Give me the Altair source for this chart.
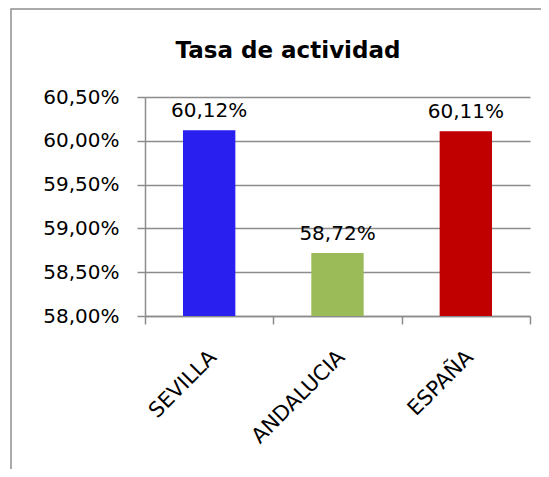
import altair as alt
import pandas as pd

categories = ["SEVILLA", "ANDALUCIA", "ESPAÑA"]
values = [60.12, 58.72, 60.11]
colors = ["#291FEF", "#9BBB59", "#C00000"]
y_ticks = [58.0, 58.5, 59.0, 59.5, 60.0, 60.5]
y_min, y_max = 58.0, 60.5
title_text = "Tasa de actividad"

df = pd.DataFrame({"cat": categories, "val": values, "color": colors})

FONT = "DejaVu Sans"
GRID = "#8c8c8c"

x_enc = alt.X(
    "cat:N",
    sort=categories,
    scale=alt.Scale(paddingInner=0, paddingOuter=0),
    axis=alt.Axis(
        title=None,
        labelAngle=-45,
        labelAlign="right",
        labelBaseline="top",
        labelPadding=22,
        labelOffset=-4,
        labelFont=FONT,
        labelFontSize=21,
        labelColor="#000000",
        tickBand="extent",
        tickSize=8,
        tickColor=GRID,
        tickWidth=1.5,
        domainColor=GRID,
        domainWidth=1.5,
        grid=False,
    ),
)

y_scale = alt.Scale(domain=[y_min, y_max], zero=False, nice=False)

bars = alt.Chart(df).mark_bar(width=alt.RelativeBandSize(0.408)).encode(
    x=x_enc,
    y=alt.Y(
        "val:Q",
        scale=y_scale,
        axis=alt.Axis(
            title=None,
            values=y_ticks,
            labelExpr="replace(format(datum.value, '.2f'), '.', ',') + '%'",
            labelFont=FONT,
            labelFontSize=20,
            labelColor="#000000",
            labelPadding=18,
            tickSize=8,
            tickColor=GRID,
            tickWidth=1.5,
            domainColor=GRID,
            domainWidth=1.5,
            grid=True,
            gridColor=GRID,
            gridWidth=1.5,
        ),
    ),
    y2=alt.datum(y_min),
    color=alt.Color("color:N", scale=None, legend=None),
)

labels = alt.Chart(df).transform_calculate(
    lab="replace(format(datum.val, '.2f'), '.', ',') + '%'"
).mark_text(
    font=FONT, fontSize=20, color="#000000", baseline="middle", dy=-19
).encode(
    x=alt.X("cat:N", sort=categories),
    y=alt.Y("val:Q", scale=y_scale),
    text="lab:N",
)

frame = alt.Chart(pd.DataFrame({"k": [0]})).mark_rect(
    fill=None, stroke="#8e8e8e", strokeWidth=1.5
).encode(
    x=alt.value(-134),
    x2=alt.value(700),
    y=alt.value(-88),
    y2=alt.value(600),
)

chart = alt.layer(frame, bars, labels).properties(
    width=385,
    height=219,
    title=alt.TitleParams(
        title_text,
        font=FONT,
        fontSize=23,
        fontWeight="bold",
        color="#000000",
        anchor="middle",
        frame="group",
        baseline="alphabetic",
        dx=-49.5,
        dy=73,
        offset=0,
    ),
    autosize=alt.AutoSizeParams(type="none"),
    padding={"left": 137, "top": 89, "right": 11, "bottom": 153},
).configure_view(stroke=None)

chart.save("out.html", embed_options={"renderer": "svg", "actions": False})
